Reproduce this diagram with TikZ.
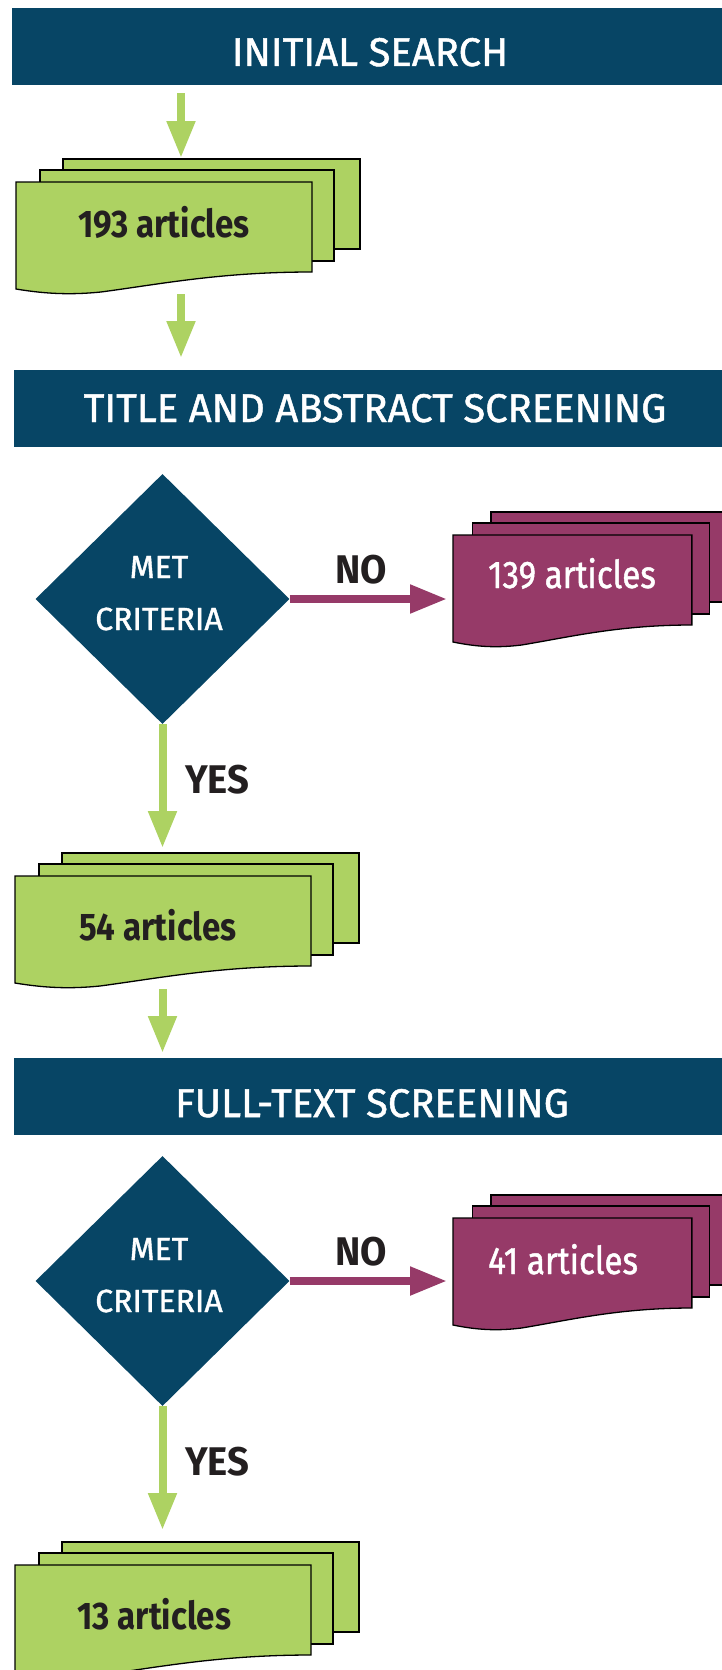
\documentclass[tikz,border=0pt]{standalone}
\usepackage{fontspec}
\usetikzlibrary{arrows.meta,shapes.geometric}
\newfontfamily\fmed{Fira Sans}[FakeBold=1.2]
\newfontfamily\flab{Fira Sans}[FakeStretch=0.955]
\newfontfamily\fartM{Fira Sans}[FakeStretch=0.86, Numbers=Proportional, FakeBold=1.2]
\newfontfamily\fartG{Fira Sans}[FakeStretch=0.86, Numbers=Proportional]
\definecolor{navy}{HTML}{074565}
\definecolor{lgreen}{HTML}{ADD262}
\definecolor{plum}{HTML}{963A68}
\definecolor{textdark}{HTML}{231F20}
\newcommand{\docstack}[4]{%
  \begin{scope}[shift={(#1,#2)}, xscale=#3]
    \filldraw[sheet, fill=#4] (47,-23) rectangle (344,67);
    \filldraw[sheet, fill=#4] (24,-12) rectangle (318,79);
    \filldraw[sheet, fill=#4] (0,0) -- (296,0) -- (296,90) .. controls (205,90) and (145,102) .. (85,110) .. controls (55,113) and (30,112) .. (0,107) -- cycle;
  \end{scope}}
\tikzset{
  banner/.style={fill=navy, draw=none, minimum height=77pt, minimum width=720pt, inner sep=0pt, anchor=north west},
  bannertext/.style={text=white, font=\fmed\fontsize{40}{48}\selectfont, inner sep=0pt, anchor=base},
  garrow/.style={draw=lgreen, line width=8pt, -{Triangle[length=37pt,width=27pt]}},
  parrow/.style={draw=plum, line width=8pt, -{Triangle[length=37pt,width=27pt]}},
  sheet/.style={draw=black, line width=1.3pt, line join=miter},
  decision/.style={diamond, fill=navy, draw=none, minimum width=254pt, minimum height=250pt, inner sep=0pt},
  dectext/.style={text=white, font=\fmed\fontsize{32}{38}\selectfont, inner sep=0pt, anchor=base},
  lab/.style={text=textdark, font=\flab\bfseries\fontsize{40}{48}\selectfont, inner sep=0pt, anchor=base},
  artG/.style={text=textdark, font=\fartG\bfseries\fontsize{38.5}{46}\selectfont, inner sep=0pt, anchor=base west},
  artP/.style={text=white, font=\fartM\fontsize{38.5}{46}\selectfont, inner sep=0pt, anchor=base west},
}
\begin{document}
\begin{tikzpicture}[x=1pt, y=-1pt]
\useasboundingbox (0,0) rectangle (722,1670);
\clip (0,0) rectangle (722,1670);
% banners
\node[banner] (b1) at (12,7.5) {};
\node[banner] (b2) at (14,370) {};
\node[banner] (b3) at (14,1058) {};
\node[bannertext] (t1) at (370,66) {INITIAL SEARCH};
\node[bannertext] (t2) at (375,422) {TITLE AND ABSTRACT SCREENING};
\node[bannertext] (t3) at (372,1117) {FULL-TEXT SCREENING};
% document stacks
\docstack{16}{182}{1}{lgreen}
\docstack{15}{876}{1}{lgreen}
\docstack{15}{1565}{1}{lgreen}
\docstack{453}{535}{0.807}{plum}
\docstack{453}{1218}{0.807}{plum}
\node[artG] (n193) at (78,237) {193 articles};
\node[artG] (n54) at (79,940) {54 articles};
\node[artG] (n13) at (77,1629) {13 articles};
\node[artP] (n139) at (488,588) {139 articles};
\node[artP] (n41) at (488,1274) {41 articles};
% decisions
\node[decision] (d1) at (162.5,599) {};
\node[decision] (d2) at (162.5,1281) {};
\node[dectext] (m1) at (159,578) {MET};
\node[dectext] (c1) at (159,630) {CRITERIA};
\node[dectext] (m2) at (159,1260) {MET};
\node[dectext] (c2) at (159,1312) {CRITERIA};
\node[lab] (no1) at (361,583) {NO};
\node[lab] (no2) at (361,1265) {NO};
\node[lab, anchor=base west] (yes1) at (185,793) {YES};
\node[lab, anchor=base west] (yes2) at (185,1475) {YES};
% connector ends
\coordinate (s1in) at (181,158);
\coordinate (s1out) at (181,294);
\coordinate (s2in) at (162.5,848);
\coordinate (s2out) at (162.5,989);
\coordinate (s3in) at (162.5,1530);
\coordinate (p1in) at (447,599);
\coordinate (p2in) at (447,1281);
% connectors
\draw[garrow] ([yshift=-8.5pt]b1.south -| s1in) -- (s1in);
\draw[garrow] (s1out) -- ([yshift=12pt]b2.north -| s1out);
\draw[garrow] (d1.south) -- (s2in);
\draw[parrow] (d1.east) -- (p1in);
\draw[garrow] (s2out) -- ([yshift=5pt]b3.north -| s2out);
\draw[garrow] (d2.south) -- (s3in);
\draw[parrow] (d2.east) -- (p2in);
\end{tikzpicture}
\end{document}
